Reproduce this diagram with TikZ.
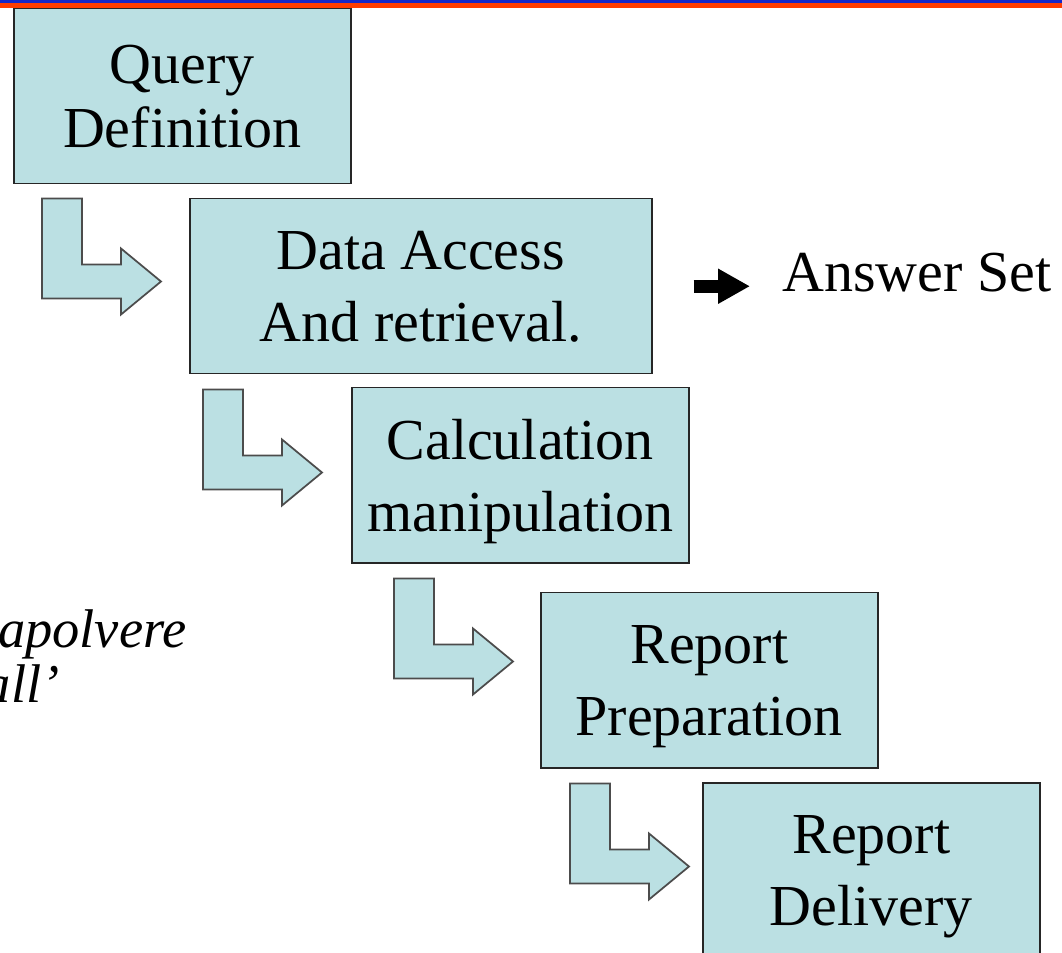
\documentclass[tikz,border=0pt]{standalone}
\usepackage{fontspec}
\setmainfont{Liberation Serif}
\usetikzlibrary{arrows.meta, positioning}

\definecolor{boxfill}{RGB}{187,224,227}
\definecolor{topred}{RGB}{255,60,0}
\definecolor{topblue}{RGB}{20,40,200}

\tikzset{
  stagebox/.style={draw=black!85, fill=boxfill, line width=0.3mm, inner sep=0pt,
    minimum width=6.74cm, minimum height=3.5cm, align=center, text depth=0pt,
    font=\fontsize{33}{41}\selectfont, anchor=north west},
  bentarrow/.pic={\draw[draw=black!70, fill=boxfill, line width=0.35mm]
    (0,0) -- (40,0) -- (40,66) -- (79,66) -- (79,50) -- (119,83)
    -- (79,116) -- (79,100) -- (0,100) -- cycle;},
}

\begin{document}
\begin{tikzpicture}[x=0.2mm, y=-0.2mm]
\useasboundingbox (0,0) rectangle (1062,953);

% top rule
\fill[topblue] (0,0) rectangle (1062,2.6);
\fill[topred] (0,2.6) rectangle (1062,7.6);

\node at (13,8) (qdef) [stagebox, font=\fontsize{33}{36.4}\selectfont] 
{Query\\Definition};

\node at (189,198) (dacc) [stagebox, minimum width=9.24cm] 
{Data Access\\And retrieval.};

\node at (351,387) (calc) [stagebox] 
{Calculation\\manipulation};

\node at (540,592) (rprep) [stagebox] 
{Report\\Preparation};

\node at (702,782) (rdel) [stagebox] 
{Report\\Delivery};

\node at (782,292) (ans) [anchor=base west, inner sep=0pt, font=\fontsize{33}{40}\selectfont] 
{Answer Set};

\node at (187,648) (capo) [anchor=base east, inner sep=0pt, font=\itshape\fontsize{31}{36}\selectfont] 
{apolvere};
\node at (60,703) (dall) [anchor=base east, inner sep=0pt, font=\itshape\fontsize{31}{36}\selectfont] 
{all'};

\pic at ([shift={(29,14)}]qdef.south west) {bentarrow};
\pic at ([shift={(14,15)}]dacc.south west) {bentarrow};
\pic at ([shift={(43,15)}]calc.south west) {bentarrow};
\pic at ([shift={(30,15)}]rprep.south west) {bentarrow};

\draw[line width=2.6mm, -{Triangle[length=6.4mm, width=6.6mm]}, shorten <=8.2mm, shorten >=6.4mm] 
(dacc.east) -- (ans.west |- dacc.east);
\end{tikzpicture}
\end{document}
